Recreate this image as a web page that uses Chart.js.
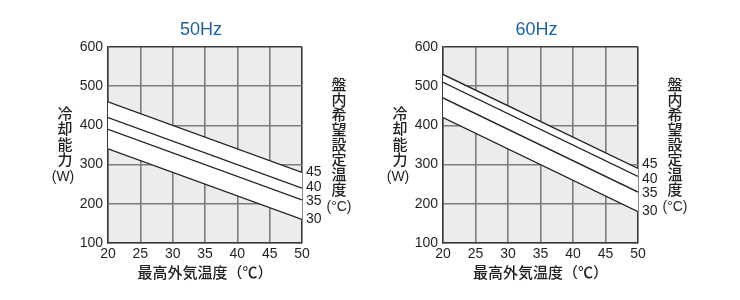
<!DOCTYPE html>
<html lang="ja">
<head>
<meta charset="UTF-8">
<title>冷却能力 50Hz / 60Hz</title>
<script src="https://cdn.jsdelivr.net/npm/chart.js"></script>
<style>
  body { margin: 0; background: #fff; }
  .wrap { position: relative; width: 740px; height: 300px; }
  .panel { position: absolute; top: 0; width: 370px; height: 300px; }
</style>
</head>
<body>
<div class="wrap">
  <div class="panel" style="left:0"><canvas id="chart50" width="370" height="300"></canvas></div>
  <div class="panel" style="left:370px"><canvas id="chart60" width="370" height="300"></canvas></div>
</div>
<script>
// outside air temperature (x) and cooling capacity in W (y)
const outsideTemps = [20, 50];
const setTemps = ['45', '40', '35', '30'];
const xTicks = [20, 25, 30, 35, 40, 45, 50];
const yTicks = [100, 200, 300, 400, 500, 600];

// 50Hz, one array per cabinet set temperature
const hz50_45 = [460, 280];
const hz50_40 = [420, 240];
const hz50_35 = [390, 210];
const hz50_30 = [340, 160];

// 60Hz
const hz60_45 = [530, 290];
const hz60_40 = [510, 270];
const hz60_35 = [470, 230];
const hz60_30 = [420, 180];

const INK = '#231f20';
const LATIN = '"Liberation Sans", Arial, sans-serif';
const CJK = '"Noto Sans CJK JP", sans-serif';

function vText(ctx, str, x, y0, step) {
  [...str].forEach((ch, i) => ctx.fillText(ch, x, y0 + i * step));
}

const decorPlugin = {
  id: 'decor',
  beforeDraw(chart) {
    const a = chart.chartArea, ctx = chart.ctx;
    ctx.save();
    ctx.fillStyle = '#ececec';
    ctx.fillRect(a.left, a.top, a.right - a.left, a.bottom - a.top);
    ctx.restore();
  },
  afterDraw(chart) {
    const a = chart.chartArea, ctx = chart.ctx;
    const cx = (a.left + a.right) / 2;
    ctx.save();
    ctx.textAlign = 'center';
    ctx.textBaseline = 'middle';

    // title
    ctx.fillStyle = '#1d5fa6';
    ctx.font = '18px ' + LATIN;
    ctx.fillText(chart.options.plugins.decor.title, cx - 4, 30);

    ctx.fillStyle = INK;
    // x axis title
    ctx.font = '500 15px ' + CJK;
    ctx.fillText('最高外気温度（℃）', cx, 272);

    // left axis title
    vText(ctx, '冷却能力', a.left - 43, 113, 15.5);
    ctx.font = '14px ' + LATIN;
    ctx.fillText('(W)', a.left - 45, 177);

    // right axis title
    ctx.font = '500 15px ' + CJK;
    vText(ctx, '盤内希望設定温度', a.right + 37, 84, 15.1);
    ctx.font = '14px ' + LATIN;
    ctx.fillText('(\u00b0C)', a.right + 37, 207);

    // series labels at the line ends, spread apart when too close
    const ys = chart.data.datasets.map((ds, i) => {
      const pts = chart.getDatasetMeta(i).data;
      return pts[pts.length - 1].y;
    });
    const gap = 14.5;
    for (let it = 0; it < 30; it++) {
      for (let i = 0; i < ys.length - 1; i++) {
        const d = ys[i + 1] - ys[i];
        if (d < gap) {
          const push = (gap - d) / 2;
          ys[i] -= push;
          ys[i + 1] += push;
        }
      }
    }
    ctx.textAlign = 'left';
    ctx.font = '14px ' + LATIN;
    chart.data.datasets.forEach((ds, i) => {
      ctx.fillText(ds.label, a.right + 4, ys[i]);
    });
    ctx.restore();
  }
};

function makeChart(id, title, series, padLeft, padRight) {
  const datasets = series.map((vals, i) => ({
    label: setTemps[i],
    data: outsideTemps.map((x, j) => ({ x: x, y: vals[j] })),
    borderColor: INK,
    borderWidth: 1.3,
    pointRadius: 0,
    backgroundColor: '#ffffff',
    fill: i === 0 ? series.length - 1 : false
  }));

  const edgeColor = '#3a3a3a';
  const gridColor = '#7c7c7c';

  new Chart(document.getElementById(id).getContext('2d'), {
    type: 'line',
    data: { datasets: datasets },
    plugins: [decorPlugin],
    options: {
      responsive: false,
      animation: false,
      layout: { padding: { top: 47, right: padRight, bottom: 0, left: 0 } },
      plugins: {
        legend: { display: false },
        tooltip: { enabled: false },
        filler: { drawTime: 'beforeDatasetsDraw' },
        decor: { title: title }
      },
      scales: {
        x: {
          type: 'linear',
          z: 1,
          min: xTicks[0],
          max: xTicks[xTicks.length - 1],
          afterBuildTicks: s => { s.ticks = xTicks.map(v => ({ value: v })); },
          afterFit: s => { s.height = 57; },
          grid: {
            drawTicks: false,
            color: c => (c.tick && c.tick.value === xTicks[xTicks.length - 1]) ? edgeColor : gridColor,
            lineWidth: 1.6
          },
          border: { color: edgeColor, width: 1.5 },
          ticks: { color: INK, padding: 3, font: { family: LATIN, size: 14 } }
        },
        y: {
          z: 1,
          min: yTicks[0],
          max: yTicks[yTicks.length - 1],
          afterBuildTicks: s => { s.ticks = yTicks.map(v => ({ value: v })); },
          afterFit: s => { s.width = padLeft; },
          grid: {
            drawTicks: false,
            color: c => (c.tick && c.tick.value === yTicks[yTicks.length - 1]) ? edgeColor : gridColor,
            lineWidth: 1.6
          },
          border: { color: edgeColor, width: 1.5 },
          ticks: { color: INK, padding: 5, font: { family: LATIN, size: 14 } }
        }
      }
    }
  });
}

makeChart('chart50', '50Hz', [hz50_45, hz50_40, hz50_35, hz50_30], 108, 68);
makeChart('chart60', '60Hz', [hz60_45, hz60_40, hz60_35, hz60_30], 73, 102);
</script>
</body>
</html>
